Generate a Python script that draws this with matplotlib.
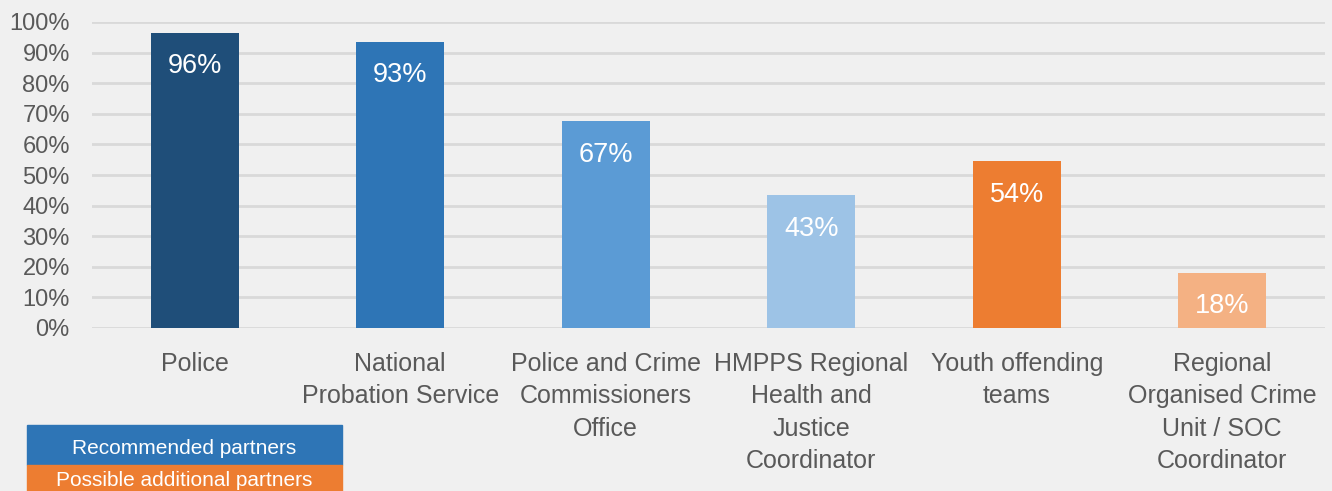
import numpy as np
import matplotlib
matplotlib.use("Agg")
import matplotlib.pyplot as plt
from matplotlib.patches import Rectangle

# data
categories = ["Police", "National\nProbation Service", "Police and Crime\nCommissioners\nOffice",
              "HMPPS Regional\nHealth and\nJustice\nCoordinator", "Youth offending\nteams",
              "Regional\nOrganised Crime\nUnit / SOC\nCoordinator"]
values = [0.965, 0.935, 0.675, 0.434, 0.545, 0.181]
labels = ["96%", "93%", "67%", "43%", "54%", "18%"]
colors = ["#1F4E79", "#2E75B6", "#5B9BD5", "#9DC3E6", "#ED7D31", "#F4B183"]
yticks = np.arange(0, 1.01, 0.1)
legend_items = ["Recommended partners", "Possible additional partners"]
legend_colors = ["#2E75B6", "#ED7D31"]

plt.rcParams['font.family'] = ['Liberation Sans', 'DejaVu Sans']
bg = "#F0F0F0"

fig = plt.figure(figsize=(13.32, 4.91), dpi=100, facecolor=bg)
ax = fig.add_axes([92/1332, 1 - 328/491, (1325 - 92)/1332, (328 - 22)/491])
ax.set_facecolor(bg)

x = np.arange(len(categories))
bars = ax.bar(x, values, width=0.43, color=colors, zorder=3)

for xi, v, lab in zip(x, values, labels):
    ax.annotate(lab, (xi, v), xytext=(0, -24), textcoords="offset points",
                ha="center", va="center", color="white", fontsize=19.5, zorder=4)

ax.set_xlim(-0.5, len(categories) - 0.5)
ax.set_ylim(0, 1.0)
ax.set_yticks(yticks)
ax.set_yticklabels([f"{int(round(t*100))}%" for t in yticks], fontsize=17, color="#595959")
ax.set_xticks(x)
ax.set_xticklabels(categories, fontsize=18, color="#595959", linespacing=1.45)
ax.tick_params(axis="both", length=0)
ax.tick_params(axis="y", pad=16)
ax.tick_params(axis="x", pad=17)
ax.grid(axis="y", color="#D9D9D9", linewidth=2, zorder=0)
for s in ax.spines.values():
    s.set_visible(False)

# legend boxes at bottom left
W, H = 1332, 491
boxes = [(425, 465), (465, 491)]
text_y = [449, 480]
for (y0, y1), ty, lab, c in zip(boxes, text_y, legend_items, legend_colors):
    fig.add_artist(Rectangle((27/W, 1 - y1/H), (342 - 27)/W, (y1 - y0)/H,
                             transform=fig.transFigure, color=c, zorder=5))
    fig.text(184.5/W, 1 - ty/H, lab, ha="center", va="center", color="white",
             fontsize=15, zorder=6)

fig.savefig("out.png", dpi=100, facecolor=bg)
